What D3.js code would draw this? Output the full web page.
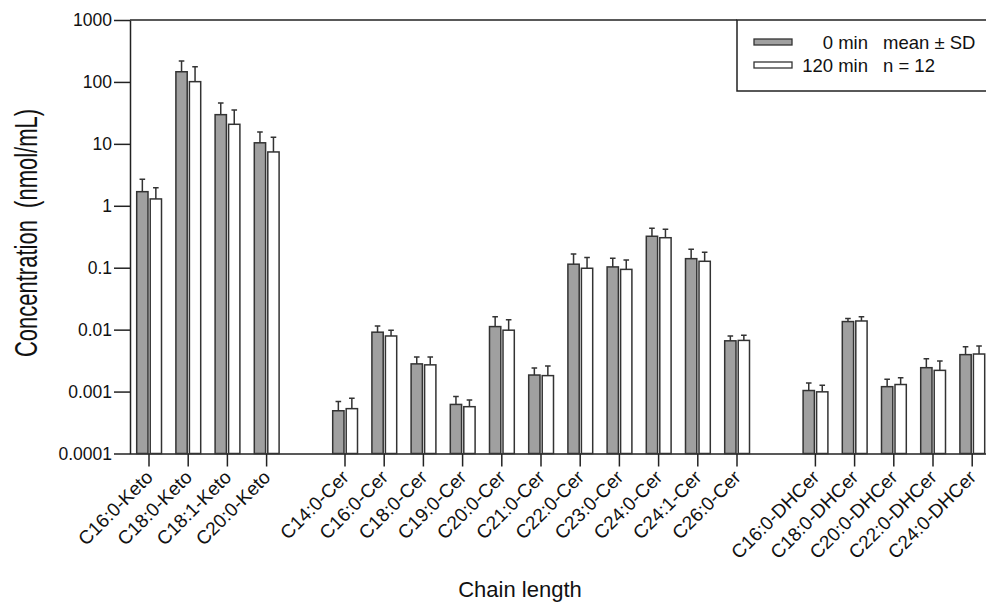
<!DOCTYPE html>
<html>
<head>
<meta charset="utf-8">
<script src="https://cdn.jsdelivr.net/npm/d3@7"></script>
<style>
  body { margin: 0; background: #fff; }
  svg { display: block; font-family: "Liberation Sans", Arial, sans-serif; }
</style>
</head>
<body>
<div id="chart"></div>
<script>
// sphingolipid groups, gaps between groups are empty slots on the x axis
var ketoNames = ["C16:0-Keto", "C18:0-Keto", "C18:1-Keto", "C20:0-Keto"];
var cerNames = ["C14:0-Cer", "C16:0-Cer", "C18:0-Cer", "C19:0-Cer", "C20:0-Cer", "C21:0-Cer",
  "C22:0-Cer", "C23:0-Cer", "C24:0-Cer", "C24:1-Cer", "C26:0-Cer"];
var dhcerNames = ["C16:0-DHCer", "C18:0-DHCer", "C20:0-DHCer", "C22:0-DHCer", "C24:0-DHCer"];

// 0 min: mean and SD (nmol/mL)
var mean0 = [1.69, 146, 29.6, 10.4,
  0.00049, 0.0091, 0.0028, 0.00062, 0.0112, 0.00185, 0.114, 0.103, 0.322, 0.140, 0.0066,
  0.00104, 0.0135, 0.0012, 0.00243, 0.00395];
var sd0 = [0.99, 72, 16, 5.2,
  0.0002, 0.0024, 0.0008, 0.00021, 0.0049, 0.00055, 0.053, 0.039, 0.112, 0.058, 0.0013,
  0.00034, 0.0016, 0.00038, 0.00097, 0.00136];
// 120 min
var mean120 = [1.29, 101, 20.7, 7.4,
  0.00053, 0.0079, 0.0027, 0.00057, 0.0098, 0.00181, 0.098, 0.094, 0.305, 0.127, 0.0067,
  0.00099, 0.0138, 0.0013, 0.0022, 0.00404];
var sd120 = [0.67, 75, 14.5, 5.4,
  0.00025, 0.0019, 0.0009, 0.00016, 0.0046, 0.00078, 0.048, 0.039, 0.113, 0.05, 0.0014,
  0.00028, 0.0024, 0.00037, 0.00092, 0.0014];

var yTicks = [0.0001, 0.001, 0.01, 0.1, 1, 10, 100, 1000];
var yTickLabels = ["0.0001", "0.001", "0.01", "0.1", "1", "10", "100", "1000"];

var width = 986, height = 604;
var axisColor = "#222", barStroke = "#333", grayFill = "#a0a0a0";

var names = ketoNames.concat(cerNames, dhcerNames);
var slots = ketoNames.concat(["gap1"], cerNames, ["gap2"], dhcerNames);

var svg = d3.select("#chart").append("svg")
  .attr("width", width).attr("height", height);

var x = d3.scaleBand().domain(slots).range([129.4, 129.4 + slots.length * 39.2]).padding(0);
var y = d3.scaleLog().domain([0.0001, 1000]).range([453.5, 20]);
var base = y(0.0001);

// y axis
var yAxis = d3.axisLeft(y).tickValues(yTicks)
  .tickFormat(function (d, i) { return yTickLabels[i]; })
  .tickSizeInner(16).tickSizeOuter(0).tickPadding(2);
var gy = svg.append("g").attr("transform", "translate(130,0)").call(yAxis);
gy.select(".domain").attr("stroke", axisColor).attr("stroke-width", 1.5);
gy.selectAll(".tick line").attr("stroke", axisColor).attr("stroke-width", 1.5);
gy.selectAll(".tick text").attr("font-size", 17.5).attr("fill", "#111")
  .attr("font-family", "Liberation Sans, Arial, sans-serif");

// x axis
var xAxis = d3.axisBottom(x).tickValues(names).tickSizeInner(13).tickSizeOuter(0).tickFormat("");
var gx = svg.append("g").attr("transform", "translate(0," + base + ")").call(xAxis);
gx.select(".domain").attr("stroke", axisColor).attr("stroke-width", 1.5);
gx.selectAll(".tick line").attr("stroke", axisColor).attr("stroke-width", 1.5);

svg.append("g").selectAll("text").data(names).enter().append("text")
  .attr("transform", function (d) {
    return "translate(" + (x(d) + x.bandwidth() / 2 + 5) + "," + (base + 25) + ") rotate(-45)";
  })
  .attr("text-anchor", "end")
  .attr("font-size", 19)
  .attr("fill", "#111")
  .text(function (d) { return d; });

// top frame line and legend box
svg.append("line").attr("x1", 130).attr("x2", 737).attr("y1", 20).attr("y2", 20)
  .attr("stroke", axisColor).attr("stroke-width", 1.5);
svg.append("rect").attr("x", 737).attr("y", 20).attr("width", 260).attr("height", 71)
  .attr("fill", "none").attr("stroke", axisColor).attr("stroke-width", 1.5);

// bars
var rows = names.map(function (n, i) {
  return { name: n, m0: mean0[i], s0: sd0[i], m1: mean120[i], s1: sd120[i] };
});
var bw = 11.3;
var series = [
  { key: "m0", sd: "s0", off: -12.3, fill: grayFill },
  { key: "m1", sd: "s1", off: 1.2, fill: "#fff" }
];

series.forEach(function (s) {
  var g = svg.append("g");
  g.selectAll("rect").data(rows).enter().append("rect")
    .attr("x", function (d) { return x(d.name) + x.bandwidth() / 2 + s.off; })
    .attr("y", function (d) { return y(d[s.key]); })
    .attr("width", bw)
    .attr("height", function (d) { return base - y(d[s.key]); })
    .attr("fill", s.fill)
    .attr("stroke", barStroke)
    .attr("stroke-width", 1.5);
  // error bars (upper only)
  g.selectAll("path.err").data(rows).enter().append("path")
    .attr("class", "err")
    .attr("d", function (d) {
      var cx = x(d.name) + x.bandwidth() / 2 + s.off + bw / 2;
      var y0 = y(d[s.key]), y1 = y(d[s.key] + d[s.sd]);
      return "M" + cx + "," + y0 + "V" + y1 + "M" + (cx - 2.8) + "," + y1 + "H" + (cx + 2.8);
    })
    .attr("fill", "none")
    .attr("stroke", barStroke)
    .attr("stroke-width", 1.5);
});

// legend
var legend = [
  { label: "0 min", note: "mean \u00b1 SD", fill: grayFill, y: 39 },
  { label: "120 min", note: "n = 12", fill: "#fff", y: 62 }
];
var lg = svg.append("g");
lg.selectAll("rect").data(legend).enter().append("rect")
  .attr("x", 754).attr("y", function (d) { return d.y; })
  .attr("width", 38).attr("height", 6)
  .attr("fill", function (d) { return d.fill; })
  .attr("stroke", barStroke).attr("stroke-width", 1.3);
lg.selectAll("text.lab").data(legend).enter().append("text")
  .attr("class", "lab")
  .attr("x", 868).attr("y", function (d) { return d.y + 9.5; })
  .attr("text-anchor", "end").attr("font-size", 18.5).attr("fill", "#111")
  .text(function (d) { return d.label; });
lg.selectAll("text.note").data(legend).enter().append("text")
  .attr("class", "note")
  .attr("x", 883).attr("y", function (d) { return d.y + 9.5; })
  .attr("font-size", 18.5).attr("fill", "#111")
  .text(function (d) { return d.note; });

// axis titles
svg.append("text")
  .attr("x", 520).attr("y", 597)
  .attr("text-anchor", "middle").attr("font-size", 22).attr("fill", "#111")
  .text("Chain length");
svg.append("text")
  .attr("transform", "translate(36.5,233) rotate(-90) scale(1,1.4)")
  .attr("text-anchor", "middle").attr("font-size", 22).attr("fill", "#111")
  .attr("xml:space", "preserve")
  .style("white-space", "pre")
  .text("Concentration  (nmol/mL)");
</script>
</body>
</html>
